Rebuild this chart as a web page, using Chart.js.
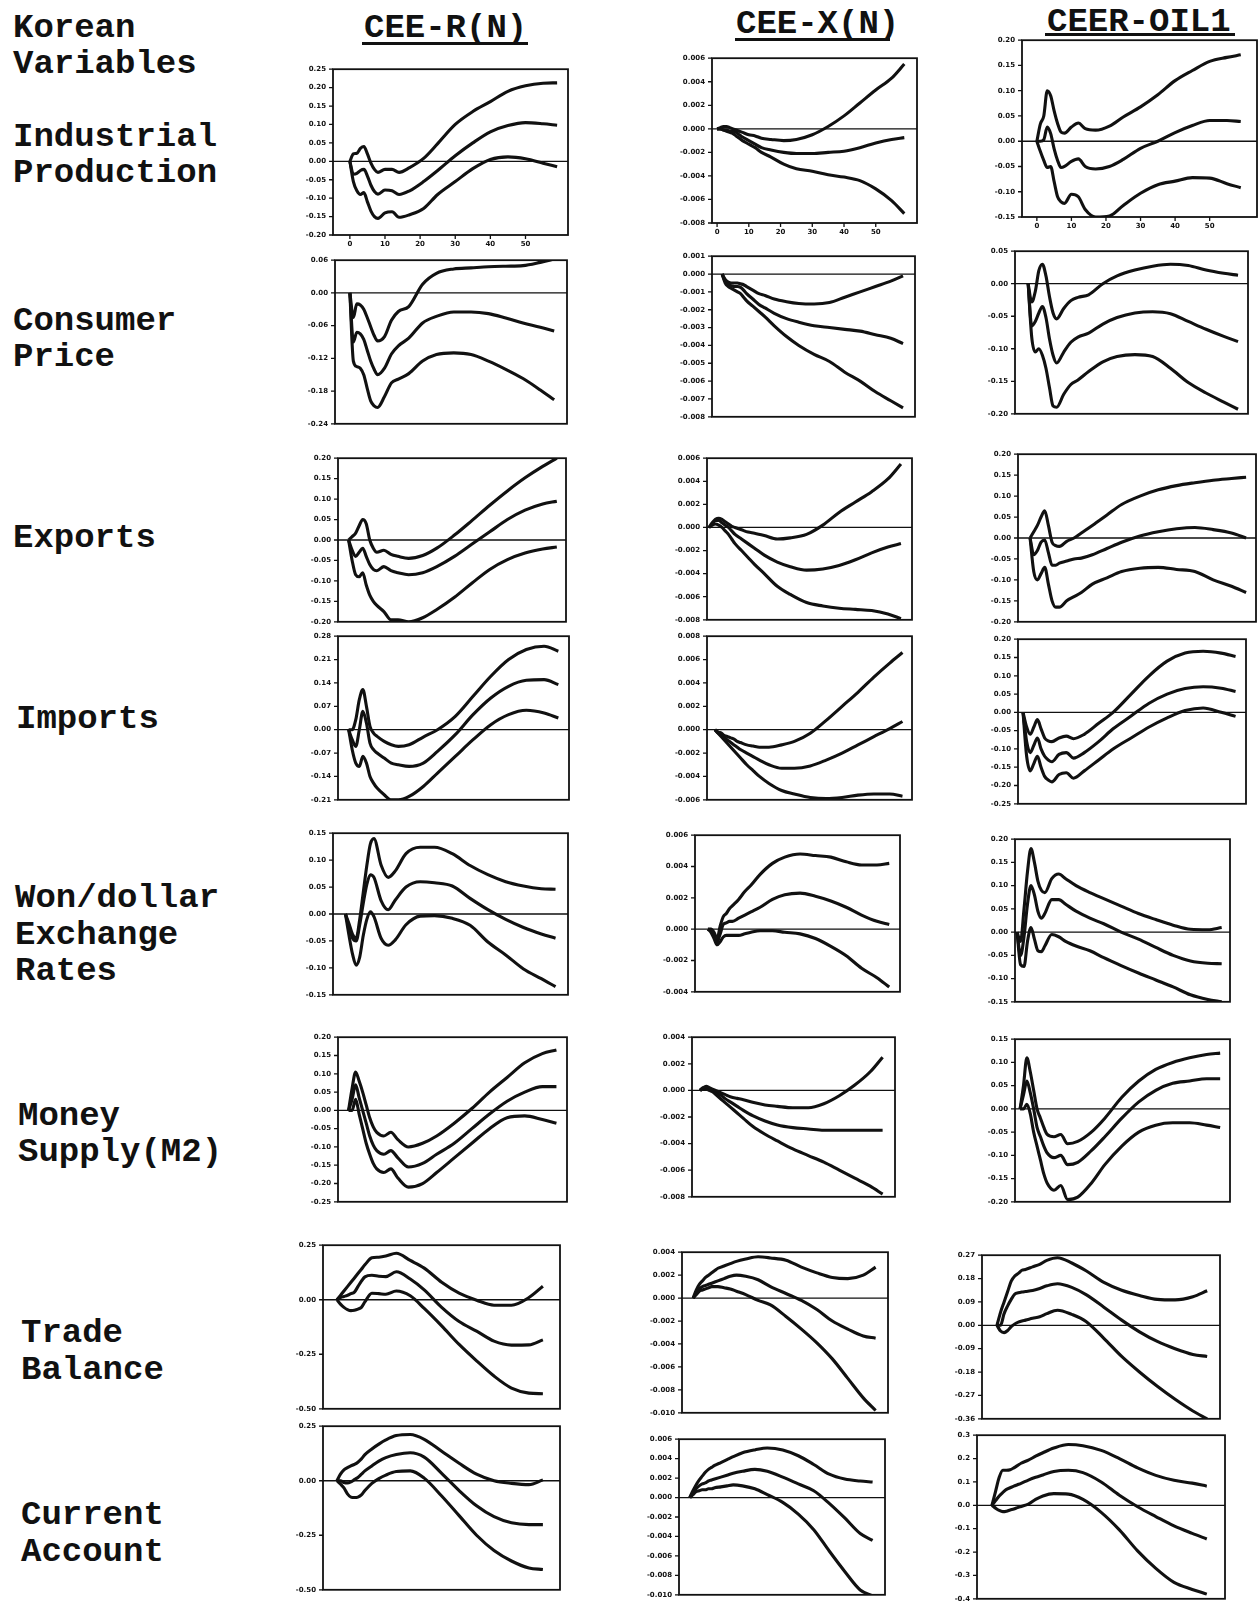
<!DOCTYPE html>
<html>
<head>
<meta charset="utf-8">
<script src="https://cdn.jsdelivr.net/npm/chart.js@4.4.0/dist/chart.umd.min.js"></script>
<style>
  body { margin:0; background:#fff; width:1258px; height:1607px; position:relative; overflow:hidden; }
  .lbl { position:absolute; font:bold 34px 'Liberation Mono', monospace; line-height:34px; white-space:pre; color:#111; }
  .rule { position:absolute; height:3px; background:#111; }
  canvas { position:absolute; }
</style>
</head>
<body>
<script>
/* horizon (months after the shock) shared by every panel */
const STEPS = [0,1,2,3,4,5,6,7,8,10,12,14,17,21,25,30,35,40,45,50,55,59];

const COLUMNS = ['CEE-R(N)', 'CEE-X(N)', 'CEER-OIL1'];
const ROW_NAMES = [
  ['Industrial','Production'], ['Consumer','Price'], ['Exports'], ['Imports'],
  ['Won/dollar','Exchange','Rates'], ['Money','Supply(M2)'], ['Trade','Balance'], ['Current','Account']
];
const X_TICKS = [0,10,20,30,40,50];

/* y tick labels */
const T_IP_R = ['0.25','0.20','0.15','0.10','0.05','0.00','-0.05','-0.10','-0.15','-0.20'];
const T_CP_R = ['0.06','0.00','-0.06','-0.12','-0.18','-0.24'];
const T_EX_R = ['0.20','0.15','0.10','0.05','0.00','-0.05','-0.10','-0.15','-0.20'];
const T_IM_R = ['0.28','0.21','0.14','0.07','0.00','-0.07','-0.14','-0.21'];
const T_WD_R = ['0.15','0.10','0.05','0.00','-0.05','-0.10','-0.15'];
const T_MS_R = ['0.20','0.15','0.10','0.05','0.00','-0.05','-0.10','-0.15','-0.20','-0.25'];
const T_TB_R = ['0.25','0.00','-0.25','-0.50'];
const T_CA_R = ['0.25','0.00','-0.25','-0.50'];

const T_IP_X = ['0.006','0.004','0.002','0.000','-0.002','-0.004','-0.006','-0.008'];
const T_CP_X = ['0.001','0.000','-0.001','-0.002','-0.003','-0.004','-0.005','-0.006','-0.007','-0.008'];
const T_EX_X = ['0.006','0.004','0.002','0.000','-0.002','-0.004','-0.006','-0.008'];
const T_IM_X = ['0.008','0.006','0.004','0.002','0.000','-0.002','-0.004','-0.006'];
const T_WD_X = ['0.006','0.004','0.002','0.000','-0.002','-0.004'];
const T_MS_X = ['0.004','0.002','0.000','-0.002','-0.004','-0.006','-0.008'];
const T_TB_X = ['0.004','0.002','0.000','-0.002','-0.004','-0.006','-0.008','-0.010'];
const T_CA_X = ['0.006','0.004','0.002','0.000','-0.002','-0.004','-0.006','-0.008','-0.010'];

const T_IP_O = ['0.20','0.15','0.10','0.05','0.00','-0.05','-0.10','-0.15'];
const T_CP_O = ['0.05','0.00','-0.05','-0.10','-0.15','-0.20'];
const T_EX_O = ['0.20','0.15','0.10','0.05','0.00','-0.05','-0.10','-0.15','-0.20'];
const T_IM_O = ['0.20','0.15','0.10','0.05','0.00','-0.05','-0.10','-0.15','-0.20','-0.25'];
const T_WD_O = ['0.20','0.15','0.10','0.05','0.00','-0.05','-0.10','-0.15'];
const T_MS_O = ['0.15','0.10','0.05','0.00','-0.05','-0.10','-0.15','-0.20'];
const T_TB_O = ['0.27','0.18','0.09','0.00','-0.09','-0.18','-0.27','-0.36'];
const T_CA_O = ['0.3','0.2','0.1','0.0','-0.1','-0.2','-0.3','-0.4'];

/* responses: [upper band, estimate, lower band] */
const ipR = [
  [0,0.02,0.022,0.035,0.04,0.02,-0.005,-0.022,-0.03,-0.022,-0.022,-0.03,-0.017,0.008,0.048,0.10,0.135,0.162,0.19,0.205,0.212,0.213],
  [0,-0.035,-0.033,-0.025,-0.022,-0.04,-0.065,-0.082,-0.089,-0.078,-0.08,-0.09,-0.08,-0.055,-0.025,0.015,0.05,0.08,0.097,0.105,0.102,0.098],
  [0,-0.055,-0.08,-0.09,-0.085,-0.11,-0.135,-0.15,-0.155,-0.14,-0.137,-0.152,-0.145,-0.128,-0.09,-0.055,-0.02,0.005,0.012,0.007,-0.005,-0.015]
];
const cpR = [
  [0,-0.045,-0.02,-0.022,-0.03,-0.045,-0.062,-0.078,-0.088,-0.08,-0.05,-0.034,-0.025,0.016,0.036,0.044,0.046,0.048,0.049,0.05,0.056,0.062],
  [0,-0.09,-0.072,-0.075,-0.085,-0.105,-0.125,-0.14,-0.15,-0.138,-0.112,-0.097,-0.083,-0.055,-0.043,-0.035,-0.035,-0.038,-0.046,-0.055,-0.063,-0.07],
  [0,-0.125,-0.135,-0.138,-0.15,-0.175,-0.198,-0.207,-0.21,-0.19,-0.165,-0.158,-0.148,-0.125,-0.113,-0.11,-0.113,-0.125,-0.14,-0.157,-0.178,-0.196]
];
const exR = [
  [0,0.008,0.017,0.035,0.05,0.04,0.0,-0.02,-0.03,-0.025,-0.035,-0.04,-0.045,-0.038,-0.02,0.012,0.048,0.085,0.12,0.152,0.18,0.2],
  [0,-0.025,-0.04,-0.03,-0.02,-0.04,-0.06,-0.072,-0.075,-0.065,-0.075,-0.08,-0.085,-0.08,-0.065,-0.04,-0.01,0.02,0.05,0.073,0.088,0.095],
  [0,-0.05,-0.085,-0.09,-0.08,-0.11,-0.135,-0.15,-0.16,-0.175,-0.195,-0.195,-0.2,-0.19,-0.17,-0.14,-0.105,-0.072,-0.048,-0.032,-0.022,-0.017]
];
const imR = [
  [0,0.0,0.03,0.09,0.12,0.07,0.01,-0.01,-0.02,-0.035,-0.045,-0.05,-0.045,-0.022,0.0,0.04,0.1,0.16,0.21,0.24,0.25,0.235],
  [0,-0.03,-0.05,0.0,0.055,0.02,-0.04,-0.06,-0.07,-0.085,-0.1,-0.105,-0.11,-0.1,-0.065,-0.015,0.045,0.095,0.13,0.148,0.15,0.135],
  [0,-0.06,-0.1,-0.11,-0.08,-0.1,-0.14,-0.16,-0.175,-0.195,-0.21,-0.21,-0.2,-0.17,-0.13,-0.08,-0.03,0.015,0.045,0.058,0.05,0.035]
];
const wdR = [
  [0,-0.018,-0.038,-0.045,-0.01,0.04,0.09,0.13,0.14,0.091,0.068,0.08,0.112,0.124,0.124,0.112,0.09,0.073,0.06,0.052,0.047,0.046],
  [0,-0.025,-0.045,-0.05,-0.02,0.02,0.055,0.073,0.068,0.025,0.008,0.026,0.05,0.06,0.058,0.052,0.029,0.008,-0.01,-0.025,-0.037,-0.045],
  [0,-0.04,-0.075,-0.095,-0.08,-0.04,-0.01,0.004,-0.005,-0.045,-0.058,-0.048,-0.02,-0.004,-0.003,-0.008,-0.021,-0.052,-0.076,-0.102,-0.12,-0.135]
];
const msR = [
  [0,0.06,0.105,0.08,0.05,0.015,-0.02,-0.045,-0.06,-0.07,-0.06,-0.08,-0.1,-0.09,-0.07,-0.035,0.005,0.05,0.09,0.13,0.155,0.165],
  [0,0.03,0.07,0.035,0.0,-0.035,-0.07,-0.095,-0.11,-0.12,-0.11,-0.13,-0.155,-0.145,-0.12,-0.09,-0.05,-0.01,0.025,0.05,0.065,0.065],
  [0,0.0,0.03,-0.01,-0.05,-0.09,-0.12,-0.145,-0.16,-0.17,-0.16,-0.185,-0.21,-0.2,-0.17,-0.13,-0.09,-0.05,-0.02,-0.015,-0.025,-0.035]
];
const tbR = [
  [0,0.02,0.04,0.06,0.08,0.1,0.12,0.14,0.16,0.192,0.195,0.2,0.213,0.18,0.145,0.08,0.03,-0.002,-0.025,-0.025,0.01,0.062],
  [0,0.01,0.015,0.02,0.028,0.035,0.06,0.085,0.105,0.112,0.108,0.106,0.128,0.095,0.045,-0.035,-0.1,-0.144,-0.19,-0.208,-0.207,-0.184],
  [0,-0.02,-0.035,-0.045,-0.05,-0.048,-0.043,-0.035,-0.01,0.03,0.028,0.025,0.04,0.018,-0.04,-0.12,-0.205,-0.28,-0.35,-0.405,-0.428,-0.431]
];
const caR = [
  [0,0.03,0.05,0.06,0.068,0.075,0.085,0.1,0.12,0.146,0.168,0.187,0.207,0.212,0.19,0.135,0.08,0.03,0.0,-0.012,-0.018,0.004],
  [0,0.0,-0.008,-0.01,-0.005,0.005,0.015,0.03,0.045,0.068,0.09,0.106,0.12,0.128,0.108,0.034,-0.045,-0.115,-0.165,-0.193,-0.201,-0.201],
  [0,-0.015,-0.033,-0.06,-0.075,-0.077,-0.075,-0.065,-0.045,-0.012,0.01,0.026,0.042,0.045,0.012,-0.07,-0.16,-0.25,-0.32,-0.368,-0.4,-0.407]
];

const ipX = [
  [0,0.0001,0.0002,0.0002,0.0001,0.0,-0.0001,-0.0002,-0.0003,-0.0005,-0.0006,-0.0008,-0.0009,-0.001,-0.0009,-0.0005,0.0002,0.0011,0.0022,0.0033,0.0043,0.0055],
  [0,0.0,-0.0001,-0.0001,-0.0002,-0.0002,-0.0003,-0.0005,-0.0007,-0.001,-0.0013,-0.0016,-0.0018,-0.002,-0.0021,-0.0021,-0.002,-0.0019,-0.0016,-0.0012,-0.0009,-0.00075],
  [0,0.0,-0.0001,-0.0002,-0.0003,-0.0004,-0.0006,-0.0008,-0.001,-0.0013,-0.0016,-0.002,-0.0024,-0.003,-0.0034,-0.0036,-0.0039,-0.0041,-0.0044,-0.0051,-0.0061,-0.0072]
];
const cpX = [
  [0,-0.0003,-0.00045,-0.0005,-0.0005,-0.0005,-0.00055,-0.0006,-0.0007,-0.0009,-0.0011,-0.0012,-0.0014,-0.00155,-0.00165,-0.00168,-0.0016,-0.0013,-0.001,-0.0007,-0.0004,-0.0001],
  [0,-0.0004,-0.0006,-0.00065,-0.0007,-0.0007,-0.00075,-0.0009,-0.0011,-0.0014,-0.0017,-0.0019,-0.0022,-0.0025,-0.0027,-0.0029,-0.003,-0.0031,-0.0032,-0.0034,-0.0036,-0.0039],
  [0,-0.0005,-0.0007,-0.0008,-0.0009,-0.001,-0.0011,-0.0013,-0.0015,-0.0018,-0.0021,-0.0024,-0.0029,-0.0035,-0.004,-0.0045,-0.0049,-0.0055,-0.006,-0.0066,-0.0071,-0.0075]
];
const exX = [
  [0,0.0004,0.0007,0.0008,0.0007,0.0005,0.0003,0.0001,0.0,-0.0002,-0.0004,-0.0005,-0.0007,-0.001,-0.0009,-0.0006,0.0002,0.0013,0.0022,0.0031,0.0042,0.0055],
  [0,0.0003,0.0006,0.0006,0.0004,0.0002,0.0,-0.0003,-0.0006,-0.001,-0.0014,-0.0018,-0.0024,-0.003,-0.0034,-0.0037,-0.0036,-0.0033,-0.0028,-0.0022,-0.0017,-0.0014],
  [0,0.0002,0.0003,0.0002,0.0,-0.0003,-0.0006,-0.001,-0.0014,-0.002,-0.0026,-0.0032,-0.004,-0.0051,-0.0058,-0.0065,-0.0068,-0.007,-0.0071,-0.0072,-0.0075,-0.0079]
];
const imX = [
  [0,-0.0002,-0.0003,-0.0005,-0.0006,-0.0007,-0.0008,-0.001,-0.0011,-0.0013,-0.0014,-0.0015,-0.0015,-0.0013,-0.001,-0.0003,0.0008,0.002,0.0032,0.0045,0.0057,0.0066],
  [0,-0.0003,-0.0005,-0.0007,-0.0009,-0.0011,-0.0013,-0.0015,-0.0017,-0.002,-0.0023,-0.0026,-0.003,-0.0033,-0.0033,-0.0031,-0.0026,-0.002,-0.0013,-0.0006,0.0001,0.0007],
  [0,-0.0003,-0.0006,-0.0009,-0.0012,-0.0015,-0.0018,-0.0021,-0.0024,-0.003,-0.0035,-0.004,-0.0046,-0.0052,-0.0055,-0.0058,-0.0059,-0.0058,-0.0056,-0.0055,-0.0055,-0.0057]
];
const wdX = [
  [0,0.0,-0.0002,-0.0006,0.0002,0.0008,0.001,0.0013,0.0015,0.0019,0.0024,0.0028,0.0035,0.0042,0.0046,0.0048,0.0047,0.0046,0.0043,0.0041,0.0041,0.0042],
  [0,-0.0001,-0.0004,-0.0008,-0.0003,0.0003,0.0004,0.0005,0.0005,0.0007,0.0009,0.0011,0.0014,0.0019,0.0022,0.0023,0.0021,0.0018,0.0014,0.0009,0.0005,0.0003],
  [0,-0.0002,-0.0006,-0.001,-0.0008,-0.0005,-0.0004,-0.0004,-0.0004,-0.0004,-0.0003,-0.0002,-0.0001,-0.0001,-0.0002,-0.0003,-0.0006,-0.0011,-0.0017,-0.0025,-0.0031,-0.0037]
];
const msX = [
  [0,0.0002,0.0003,0.0002,0.0001,0.0,-0.0001,-0.0002,-0.0003,-0.0005,-0.0006,-0.0007,-0.0009,-0.0011,-0.0012,-0.0013,-0.0013,-0.001,-0.0004,0.0004,0.0014,0.0025],
  [0,0.0002,0.0002,0.0001,0.0,-0.0001,-0.0003,-0.0004,-0.0006,-0.0009,-0.0012,-0.0015,-0.0019,-0.0023,-0.0026,-0.0028,-0.0029,-0.003,-0.003,-0.003,-0.003,-0.003],
  [0,0.0001,0.0001,0.0,-0.0001,-0.0003,-0.0005,-0.0007,-0.0009,-0.0013,-0.0017,-0.0021,-0.0027,-0.0033,-0.0038,-0.0044,-0.0049,-0.0054,-0.006,-0.0066,-0.0072,-0.0078]
];
const tbX = [
  [0,0.0007,0.0012,0.0015,0.0018,0.002,0.0022,0.0024,0.0026,0.0028,0.003,0.0032,0.0034,0.0036,0.0035,0.0033,0.0027,0.0022,0.0018,0.0017,0.002,0.0027],
  [0,0.0004,0.0008,0.001,0.0011,0.0012,0.0013,0.0014,0.0015,0.0017,0.0019,0.002,0.0019,0.0016,0.001,0.0004,-0.0002,-0.001,-0.002,-0.0027,-0.0033,-0.0035],
  [0,0.0003,0.0006,0.0007,0.0008,0.0009,0.001,0.001,0.001,0.0009,0.0008,0.0006,0.0003,-0.0002,-0.0006,-0.0016,-0.0027,-0.0039,-0.0053,-0.007,-0.0087,-0.0098]
];
const caX = [
  [0,0.0007,0.0013,0.0018,0.0022,0.0026,0.0029,0.0031,0.0033,0.0036,0.0039,0.0042,0.0046,0.0049,0.0051,0.0049,0.0043,0.0034,0.0024,0.0019,0.0017,0.0016],
  [0,0.0005,0.0009,0.0012,0.0014,0.0015,0.0017,0.0018,0.0019,0.0021,0.0023,0.0025,0.0027,0.0029,0.0027,0.0021,0.0014,0.0007,-0.0006,-0.0021,-0.0037,-0.0044],
  [0,0.0003,0.0006,0.0007,0.0008,0.0008,0.0009,0.0009,0.001,0.0011,0.0012,0.0013,0.0012,0.0009,0.0003,-0.0005,-0.0017,-0.0033,-0.0055,-0.0076,-0.0095,-0.0101]
];

const ipO = [
  [0,0.034,0.05,0.1,0.09,0.06,0.035,0.018,0.016,0.028,0.036,0.025,0.022,0.03,0.048,0.068,0.092,0.12,0.14,0.158,0.166,0.171],
  [0,0.0,0.003,0.028,0.015,-0.015,-0.038,-0.052,-0.05,-0.04,-0.035,-0.05,-0.055,-0.05,-0.036,-0.014,0.0,0.017,0.031,0.041,0.041,0.039],
  [0,-0.02,-0.038,-0.052,-0.05,-0.08,-0.11,-0.12,-0.123,-0.105,-0.11,-0.135,-0.15,-0.148,-0.127,-0.103,-0.086,-0.079,-0.072,-0.073,-0.084,-0.092]
];
const cpO = [
  [0,-0.028,-0.012,0.02,0.03,0.012,-0.02,-0.045,-0.054,-0.038,-0.026,-0.021,-0.017,0.0,0.012,0.021,0.027,0.03,0.028,0.021,0.016,0.013],
  [0,-0.065,-0.058,-0.045,-0.035,-0.052,-0.085,-0.11,-0.122,-0.105,-0.09,-0.082,-0.076,-0.062,-0.052,-0.045,-0.043,-0.046,-0.058,-0.07,-0.081,-0.089],
  [0,-0.082,-0.105,-0.1,-0.11,-0.13,-0.16,-0.188,-0.19,-0.17,-0.155,-0.148,-0.135,-0.12,-0.112,-0.109,-0.112,-0.13,-0.152,-0.168,-0.182,-0.193]
];
const exO = [
  [0,0.015,0.03,0.05,0.065,0.03,-0.01,-0.018,-0.02,-0.008,0.0,0.012,0.03,0.055,0.08,0.1,0.115,0.125,0.132,0.138,0.142,0.145],
  [0,-0.04,-0.03,-0.01,-0.005,-0.035,-0.065,-0.065,-0.06,-0.055,-0.05,-0.048,-0.04,-0.025,-0.01,0.005,0.015,0.022,0.025,0.02,0.012,0.0],
  [0,-0.08,-0.1,-0.085,-0.07,-0.11,-0.15,-0.165,-0.165,-0.15,-0.14,-0.13,-0.11,-0.095,-0.08,-0.072,-0.07,-0.075,-0.08,-0.1,-0.115,-0.13]
];
const imO = [
  [0,-0.04,-0.06,-0.04,-0.02,-0.045,-0.07,-0.078,-0.08,-0.07,-0.065,-0.072,-0.06,-0.03,0.0,0.05,0.1,0.14,0.162,0.167,0.162,0.153],
  [0,-0.08,-0.11,-0.09,-0.07,-0.1,-0.12,-0.13,-0.135,-0.115,-0.11,-0.125,-0.11,-0.08,-0.045,-0.01,0.025,0.05,0.065,0.07,0.066,0.057],
  [0,-0.12,-0.16,-0.14,-0.12,-0.15,-0.175,-0.185,-0.19,-0.17,-0.165,-0.18,-0.16,-0.13,-0.1,-0.07,-0.04,-0.015,0.005,0.012,0.0,-0.011]
];
const wdO = [
  [0,-0.02,0.05,0.13,0.18,0.15,0.11,0.09,0.085,0.115,0.125,0.115,0.1,0.085,0.072,0.056,0.04,0.027,0.015,0.006,0.005,0.01],
  [0,-0.05,-0.01,0.06,0.1,0.08,0.045,0.03,0.04,0.07,0.07,0.06,0.045,0.03,0.018,0.0,-0.015,-0.033,-0.05,-0.062,-0.067,-0.068],
  [0,-0.07,-0.074,-0.02,0.01,-0.015,-0.04,-0.042,-0.03,-0.005,-0.01,-0.02,-0.03,-0.04,-0.055,-0.072,-0.088,-0.103,-0.118,-0.135,-0.145,-0.15]
];
const msO = [
  [0,0.05,0.11,0.08,0.04,0.0,-0.02,-0.04,-0.055,-0.06,-0.055,-0.075,-0.07,-0.05,-0.02,0.025,0.06,0.085,0.1,0.11,0.117,0.12],
  [0,0.03,0.06,0.035,0.0,-0.04,-0.06,-0.08,-0.095,-0.105,-0.1,-0.12,-0.115,-0.09,-0.06,-0.02,0.015,0.04,0.055,0.06,0.065,0.065],
  [0,0.0,0.01,-0.01,-0.05,-0.08,-0.11,-0.14,-0.16,-0.175,-0.165,-0.195,-0.19,-0.16,-0.12,-0.08,-0.05,-0.035,-0.03,-0.03,-0.035,-0.04]
];
const tbO = [
  [0,0.05,0.09,0.13,0.17,0.19,0.2,0.212,0.215,0.225,0.235,0.25,0.26,0.24,0.21,0.165,0.135,0.115,0.1,0.098,0.11,0.133],
  [0,0.0,0.045,0.075,0.1,0.12,0.125,0.128,0.13,0.134,0.142,0.152,0.16,0.146,0.118,0.07,0.02,-0.025,-0.062,-0.09,-0.112,-0.12],
  [0,-0.022,-0.028,-0.02,-0.005,0.005,0.012,0.017,0.02,0.027,0.033,0.045,0.058,0.042,0.015,-0.05,-0.12,-0.18,-0.235,-0.285,-0.33,-0.36]
];
const caO = [
  [0,0.06,0.12,0.15,0.15,0.152,0.16,0.17,0.18,0.193,0.21,0.225,0.245,0.26,0.255,0.235,0.2,0.16,0.128,0.107,0.095,0.082],
  [0,0.02,0.04,0.055,0.068,0.075,0.082,0.088,0.094,0.108,0.12,0.13,0.145,0.15,0.14,0.1,0.043,-0.006,-0.048,-0.088,-0.12,-0.144],
  [0,-0.012,-0.022,-0.027,-0.025,-0.02,-0.016,-0.01,-0.005,0.005,0.025,0.04,0.05,0.048,0.025,-0.03,-0.105,-0.195,-0.27,-0.33,-0.36,-0.38]
];

/* panel grid, row by row */
const PANELS = [
  [[ipR,T_IP_R],[ipX,T_IP_X],[ipO,T_IP_O]],
  [[cpR,T_CP_R],[cpX,T_CP_X],[cpO,T_CP_O]],
  [[exR,T_EX_R],[exX,T_EX_X],[exO,T_EX_O]],
  [[imR,T_IM_R],[imX,T_IM_X],[imO,T_IM_O]],
  [[wdR,T_WD_R],[wdX,T_WD_X],[wdO,T_WD_O]],
  [[msR,T_MS_R],[msX,T_MS_X],[msO,T_MS_O]],
  [[tbR,T_TB_R],[tbX,T_TB_X],[tbO,T_TB_O]],
  [[caR,T_CA_R],[caX,T_CA_X],[caO,T_CA_O]]
];

/* layout: plot box [left, top, right, bottom] in page px, plus x-range shown */
const BOXES = [
  [[333,66,568,235,-4.8,62.1],[712,55,917,223,-1.6,63],[1022,37,1257,217,-4.3,63.7]],
  [[335,257,567,427,-4.3,62.7],[712,253,915,420,-3.3,62.9],[1015,248,1248,417,-3.7,61.8]],
  [[338,455,566,625,-3,61.6],[707,455,912,623,-0.6,62.4],[1018,451,1256,625,-3.3,61.7]],
  [[338,633,569,803,-3,62],[707,633,912,803,-2.5,62],[1018,636,1246,807,-1.4,61.9]],
  [[333,830,568,998,-3.5,62.5],[695,832,900,995,-4.2,62.5],[1015,836,1230,1005,-0.6,61.4]],
  [[338,1034,567,1205,-3,62],[692,1034,895,1200,-2.6,63],[1015,1036,1230,1205,-1.5,61.9]],
  [[323,1242,560,1412,-4,63.9],[682,1249,888,1416,-3.6,63],[982,1252,1220,1422,-4.2,62.6]],
  [[323,1423,560,1593,-4,63.9],[679,1436,885,1598,-3.5,63],[977,1432,1225,1602,-4.1,64]]
];
const ROW_BASE = [[146,182],[330,366],[547],[728],[907,944,980],[1125,1161],[1342,1379],[1524,1561]];
const ROW_X = [13,13,13,16,15,18,21,21];

const INK = '#111';
const TICK_FONT = { family: "'DejaVu Sans', sans-serif", size: 7, weight: 'bold' };

function addText(txt, x, base, cls) {
  const d = document.createElement('div');
  d.className = cls || 'lbl';
  d.textContent = txt;
  d.style.left = x + 'px';
  d.style.top = (base - 26) + 'px';
  document.body.appendChild(d);
  return d;
}
function addRule(x1, x2, y) {
  const d = document.createElement('div');
  d.className = 'rule';
  d.style.left = x1 + 'px'; d.style.width = (x2 - x1) + 'px'; d.style.top = y + 'px';
  document.body.appendChild(d);
}

addText('Korean', 13, 37);
addText('Variables', 13, 73);
ROW_NAMES.forEach((lines, r) => lines.forEach((t, k) => addText(t, ROW_X[r], ROW_BASE[r][k])));

addText(COLUMNS[0], 364, 37); addRule(362, 528, 42);
addText(COLUMNS[1], 736, 33); addRule(735, 890, 38);
addText(COLUMNS[2], 1047, 31); addRule(1045, 1235, 33);

/* box, zero line and tick marks */
const frame = {
  id: 'frame',
  afterDraw(chart) {
    const { ctx, chartArea: a, scales: { x, y } } = chart;
    ctx.save();
    ctx.strokeStyle = INK;
    ctx.lineWidth = 1.8;
    ctx.strokeRect(a.left, a.top, a.right - a.left, a.bottom - a.top);
    ctx.beginPath();
    const y0 = y.getPixelForValue(0);
    ctx.moveTo(a.left, y0); ctx.lineTo(a.right, y0);
    y.ticks.forEach(t => { const py = y.getPixelForValue(t.value); ctx.moveTo(a.left - 4, py); ctx.lineTo(a.left, py); });
    if (x.options.display) x.ticks.forEach(t => { const px = x.getPixelForValue(t.value); ctx.moveTo(px, a.bottom); ctx.lineTo(px, a.bottom + 4); });
    ctx.lineWidth = 1.3;
    ctx.stroke();
    ctx.restore();
  }
};

function drawPanel(series, labels, box, showX) {
  const [L, T, R, B, xmin, xmax] = box;
  const AXW = 44, PT = 8, PR = 6, PB = showX ? 0 : 8, XH = showX ? 16 : 0;
  const w = (R - L) + AXW + PR;
  const h = (B - T) + PT + PB + XH;
  const cv = document.createElement('canvas');
  cv.width = w; cv.height = h;
  cv.style.width = w + 'px'; cv.style.height = h + 'px';
  cv.style.left = (L - AXW) + 'px'; cv.style.top = (T - PT) + 'px';
  document.body.appendChild(cv);

  const vals = labels.map(Number);
  const asc = vals.slice().reverse();
  new Chart(cv, {
    type: 'line',
    data: {
      datasets: series.map(s => ({
        data: STEPS.map((st, i) => ({ x: st, y: s[i] })),
        borderColor: INK, borderWidth: 3.1, pointRadius: 0,
        cubicInterpolationMode: 'monotone', fill: false
      }))
    },
    options: {
      responsive: false, animation: false, events: [],
      layout: { padding: { left: 0, top: PT, right: PR, bottom: PB } },
      plugins: { legend: { display: false }, tooltip: { enabled: false } },
      scales: {
        x: {
          type: 'linear', min: xmin, max: xmax, display: showX,
          grid: { display: false, drawTicks: false }, border: { display: false },
          ticks: { font: TICK_FONT, color: INK, padding: 5, maxRotation: 0 },
          afterBuildTicks: sc => { sc.ticks = X_TICKS.map(v => ({ value: v })); },
          afterFit: sc => { sc.height = XH; }
        },
        y: {
          min: vals[vals.length - 1], max: vals[0],
          grid: { display: false, drawTicks: false }, border: { display: false },
          ticks: { font: TICK_FONT, color: INK, padding: 7,
            callback: v => labels[vals.indexOf(v)] ?? '' },
          afterBuildTicks: sc => { sc.ticks = asc.map(v => ({ value: v })); },
          afterFit: sc => { sc.width = AXW; }
        }
      }
    },
    plugins: [frame]
  });
}

PANELS.forEach((row, r) => row.forEach(([series, labels], c) => drawPanel(series, labels, BOXES[r][c], r === 0)));
</script>
</body>
</html>
